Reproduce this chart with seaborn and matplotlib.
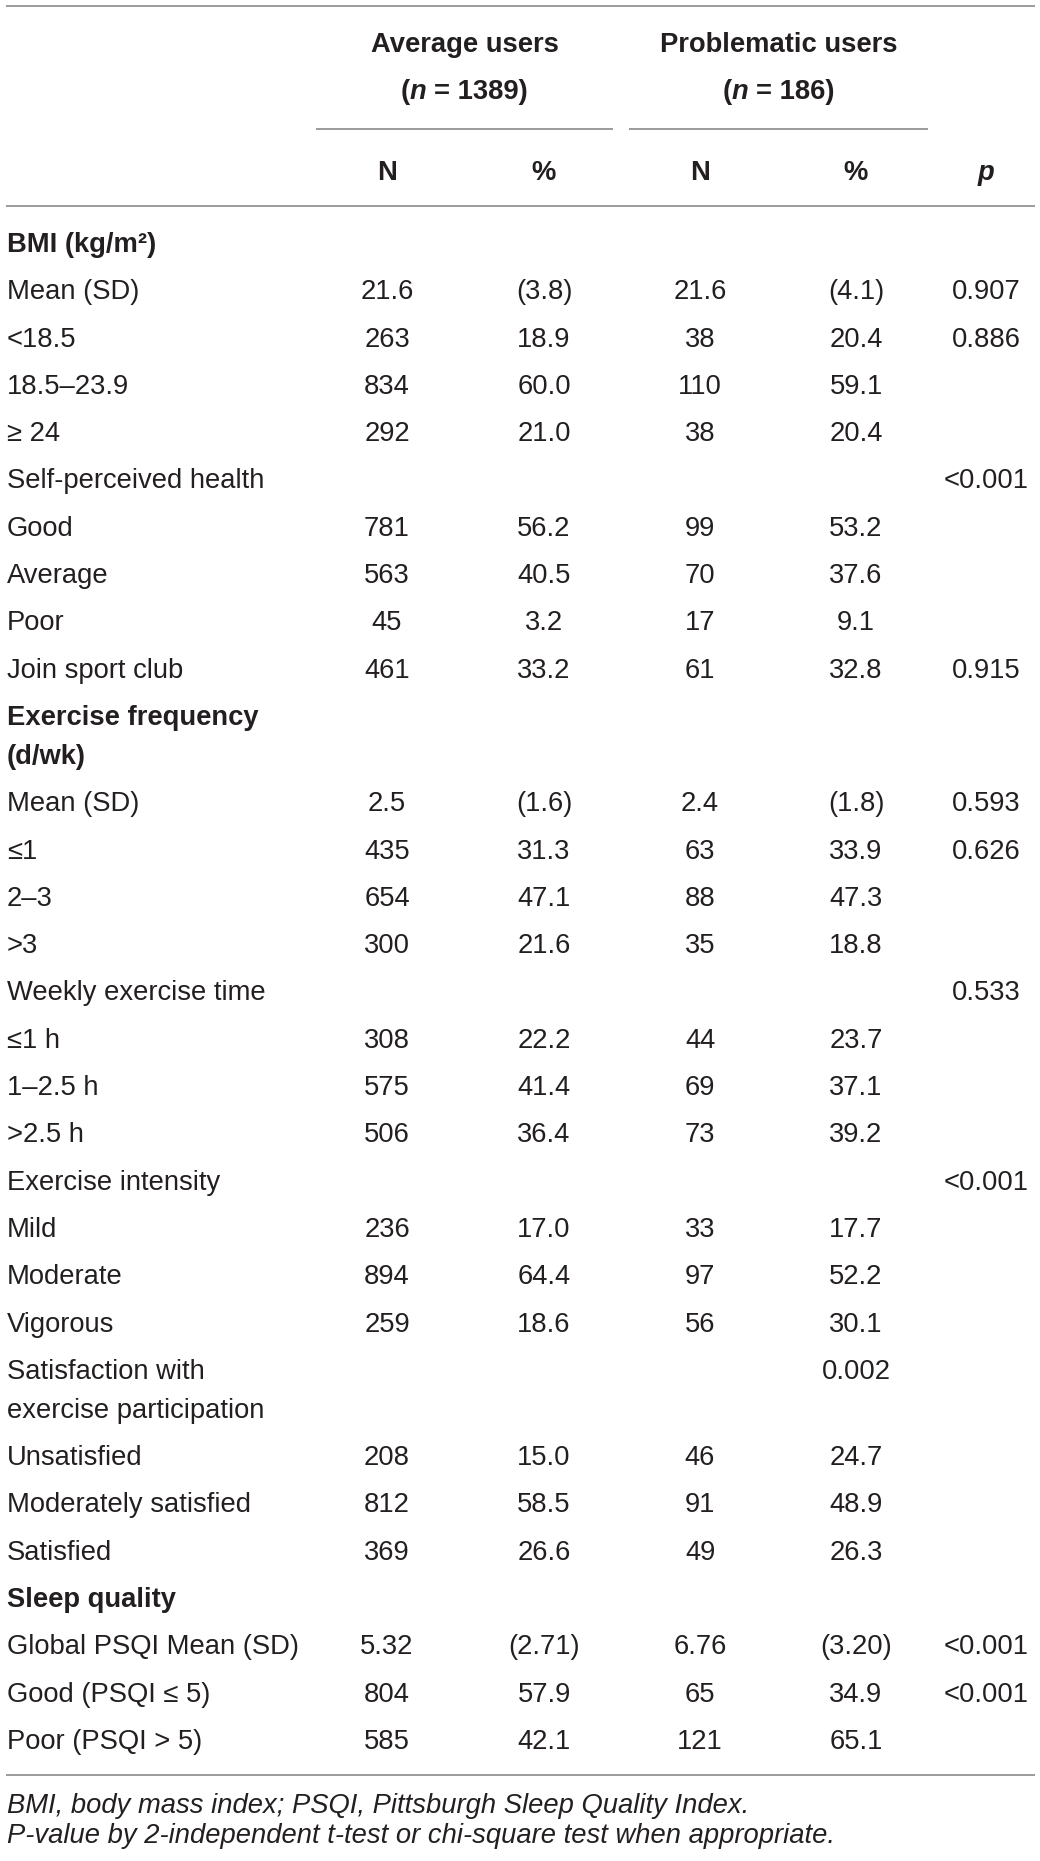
"""Tabla: características de usuarios promedio vs. problemáticos."""

import matplotlib

matplotlib.use("Agg")
import matplotlib.pyplot as plt
import seaborn as sns

# --- datos de la tabla -------------------------------------------------------
groups = ["Average users", "Problematic users"]
group_sizes = ["1389", "186"]
sub_headers = ["N", "%", "N", "%"]

sections = ["BMI (kg/m²)", "Exercise frequency\n(d/wk)", "Sleep quality"]

labels = [
    "BMI (kg/m²)", "Mean (SD)", "<18.5", "18.5–23.9", "≥ 24",
    "Self-perceived health", "Good", "Average", "Poor", "Join sport club",
    "Exercise frequency\n(d/wk)", "Mean (SD)", "≤1", "2–3", ">3",
    "Weekly exercise time", "≤1 h", "1–2.5 h", ">2.5 h",
    "Exercise intensity", "Mild", "Moderate", "Vigorous",
    "Satisfaction with\nexercise participation", "Unsatisfied",
    "Moderately satisfied", "Satisfied",
    "Sleep quality", "Global PSQI Mean (SD)", "Good (PSQI ≤ 5)", "Poor (PSQI > 5)",
]
avg_n = [
    "", "21.6", "263", "834", "292",
    "", "781", "563", "45", "461",
    "", "2.5", "435", "654", "300",
    "", "308", "575", "506",
    "", "236", "894", "259",
    "", "208", "812", "369",
    "", "5.32", "804", "585",
]
avg_pct = [
    "", "(3.8)", "18.9", "60.0", "21.0",
    "", "56.2", "40.5", "3.2", "33.2",
    "", "(1.6)", "31.3", "47.1", "21.6",
    "", "22.2", "41.4", "36.4",
    "", "17.0", "64.4", "18.6",
    "", "15.0", "58.5", "26.6",
    "", "(2.71)", "57.9", "42.1",
]
prob_n = [
    "", "21.6", "38", "110", "38",
    "", "99", "70", "17", "61",
    "", "2.4", "63", "88", "35",
    "", "44", "69", "73",
    "", "33", "97", "56",
    "", "46", "91", "49",
    "", "6.76", "65", "121",
]
prob_pct = [
    "", "(4.1)", "20.4", "59.1", "20.4",
    "", "53.2", "37.6", "9.1", "32.8",
    "", "(1.8)", "33.9", "47.3", "18.8",
    "", "23.7", "37.1", "39.2",
    "", "17.7", "52.2", "30.1",
    "0.002", "24.7", "48.9", "26.3",
    "", "(3.20)", "34.9", "65.1",
]
p_vals = [
    "", "0.907", "0.886", "", "",
    "<0.001", "", "", "", "0.915",
    "", "0.593", "0.626", "", "",
    "0.533", "", "", "",
    "<0.001", "", "", "",
    "", "", "", "",
    "", "<0.001", "<0.001", "",
]
footnotes = [
    "BMI, body mass index; PSQI, Pittsburgh Sleep Quality Index.",
    "P-value by 2-independent t-test or chi-square test when appropriate.",
]

# --- estilo ------------------------------------------------------------------
sns.set_theme(style="white")
plt.rcParams["font.family"] = ["Liberation Sans", "DejaVu Sans"]

W, H = 1040, 1861
FS = 19.7
TXT = "#231f20"
RULE = "#9b9b9b"

fig = plt.figure(figsize=(W / 100, H / 100), dpi=100, facecolor="white")
ax = fig.add_axes([0, 0, 1, 1])
ax.set_xlim(0, W)
ax.set_ylim(H, 0)
ax.axis("off")

col_x = [387, 544, 700, 856, 986]
label_x = 7
row_step = 47.3
wrap_step = 39


def rule(y, x0=6, x1=1035):
    ax.plot([x0, x1], [y, y], color=RULE, lw=1.4, solid_capstyle="butt")


def runs_centered(x, y, runs, **kw):
    """Dibuja segmentos de texto con estilos distintos, centrados en x."""
    r = fig.canvas.get_renderer()
    sp = ax.text(0, y, "a a", **kw)
    nsp = ax.text(0, y, "aa", **kw)
    gap = sp.get_window_extent(r).width - nsp.get_window_extent(r).width
    sp.remove()
    nsp.remove()
    texts, widths = [], []
    for s, style, space_before in runs:
        t = ax.text(0, y, s, fontstyle=style, va="baseline", ha="left", **kw)
        texts.append((t, space_before))
        widths.append(t.get_window_extent(r).width + (gap if space_before else 0))
    x0 = x - sum(widths) / 2
    for (t, space_before), w in zip(texts, widths):
        t.set_x(x0 + (gap if space_before else 0))
        x0 += w


# --- cabecera ----------------------------------------------------------------
rule(6)
group_cx = [464.5, 778.5]
group_span = [(316, 613), (629, 928)]
for name, size, cx, (a, b) in zip(groups, group_sizes, group_cx, group_span):
    ax.text(cx, 52, name, ha="center", va="baseline", fontsize=FS,
            fontweight="bold", color=TXT)
    runs_centered(cx, 99, [("(", "normal", False), ("n", "italic", False),
                           (f"= {size})", "normal", True)],
                  fontsize=FS, fontweight="bold", color=TXT)
    rule(129, a, b)

for x, h in zip(col_x[:4], sub_headers):
    ax.text(x, 180, h, ha="center", va="baseline", fontsize=FS,
            fontweight="bold", color=TXT)
ax.text(col_x[4], 180, "p", ha="center", va="baseline", fontsize=FS,
        fontweight="bold", fontstyle="italic", color=TXT)
rule(206)

# --- filas -------------------------------------------------------------------
y = 252
for i, lab in enumerate(labels):
    weight = "bold" if lab in sections else "normal"
    lines = lab.split("\n")
    ax.text(label_x, y, lines[0], ha="left", va="baseline", fontsize=FS,
            fontweight=weight, color=TXT)
    for x, col in zip(col_x, [avg_n, avg_pct, prob_n, prob_pct, p_vals]):
        if col[i]:
            ax.text(x, y, col[i], ha="center", va="baseline", fontsize=FS,
                    color=TXT)
    for extra in lines[1:]:
        y += wrap_step
        ax.text(label_x, y, extra, ha="left", va="baseline", fontsize=FS,
                fontweight=weight, color=TXT)
    y += row_step

rule(1775)

# --- notas -------------------------------------------------------------------
for yy, note in zip([1813, 1843], footnotes):
    ax.text(label_x, yy, note, ha="left", va="baseline", fontsize=FS,
            fontstyle="italic", color=TXT)

fig.savefig("out.png", dpi=100, facecolor="white")
plt.close(fig)
